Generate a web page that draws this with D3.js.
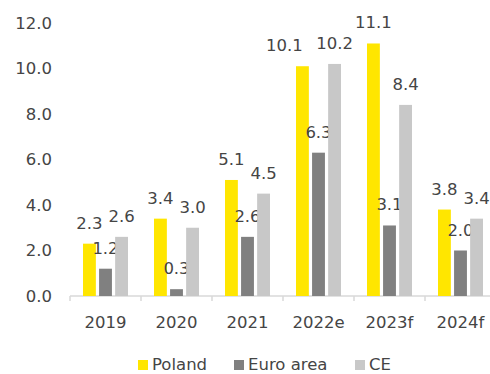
<!DOCTYPE html>
<html>
<head>
<meta charset="utf-8">
<script src="https://cdn.jsdelivr.net/npm/d3@7"></script>
<style>
  html, body { margin: 0; padding: 0; background: #fff; }
  svg { display: block; font-family: "DejaVu Sans", sans-serif; }
</style>
</head>
<body>
<svg id="chart" width="490" height="374"></svg>
<script>
// Price growth comparison, % y/y
const years = ["2019", "2020", "2021", "2022e", "2023f", "2024f"];
const seriesNames = ["Poland", "Euro area", "CE"];
const poland = [2.3, 3.4, 5.1, 10.1, 11.1, 3.8];
const euroArea = [1.2, 0.3, 2.6, 6.3, 3.1, 2.0];
const ce = [2.6, 3.0, 4.5, 10.2, 8.4, 3.4];
const yTicks = [0, 2, 4, 6, 8, 10, 12];

const colors = { "Poland": "#FFE600", "Euro area": "#808080", "CE": "#C8C8C8" };
const textColor = "#454545";
const fontSize = 16.5;

const seriesValues = { "Poland": poland, "Euro area": euroArea, "CE": ce };

// labels nudged sideways so neighbouring labels don't collide
const labelShift = { "2022e|Poland": -18 };

const svg = d3.select("#chart");

const x = d3.scaleBand().domain(years).range([70, 496]).paddingInner(0).paddingOuter(0);
const xInner = d3.scaleBand().domain(seriesNames).range([13, 58]).paddingInner(0.2);
const y = d3.scaleLinear().domain([0, 12]).range([296, 23]);

// Y axis labels (no axis line, no gridlines)
const yAxis = d3.axisLeft(y).tickValues(yTicks).tickFormat(d3.format(".1f")).tickSize(0).tickPadding(0);
const gy = svg.append("g").attr("transform", "translate(52,0)").call(yAxis);
gy.select(".domain").remove();
gy.selectAll("text")
  .attr("fill", textColor)
  .attr("font-size", fontSize)
  .attr("font-family", "DejaVu Sans, sans-serif");

// X axis with tick marks at category boundaries
const gx = svg.append("g").attr("transform", "translate(0,296)");
gx.append("line")
  .attr("x1", x.range()[0]).attr("x2", x.range()[1])
  .attr("stroke", "#D9D9D9").attr("stroke-width", 1.5);
gx.selectAll("line.tick")
  .data(years)
  .join("line")
  .attr("class", "tick")
  .attr("x1", d => x(d)).attr("x2", d => x(d))
  .attr("y1", 0).attr("y2", 5)
  .attr("stroke", "#D9D9D9").attr("stroke-width", 1.5);
gx.selectAll("text")
  .data(years)
  .join("text")
  .attr("x", d => x(d) + x.bandwidth() / 2)
  .attr("y", 32)
  .attr("text-anchor", "middle")
  .attr("fill", textColor)
  .attr("font-size", fontSize)
  .text(d => d);

// Bars and value labels
const groups = svg.selectAll("g.year")
  .data(years)
  .join("g")
  .attr("class", "year")
  .attr("transform", d => `translate(${x(d)},0)`);

const cells = groups.selectAll("g.cell")
  .data((yr, i) => seriesNames.map(s => ({ year: yr, series: s, value: seriesValues[s][i] })))
  .join("g")
  .attr("class", "cell");

cells.append("rect")
  .attr("x", d => xInner(d.series))
  .attr("width", xInner.bandwidth())
  .attr("y", d => y(d.value))
  .attr("height", d => y(0) - y(d.value))
  .attr("fill", d => colors[d.series]);

cells.append("text")
  .attr("x", d => xInner(d.series) + xInner.bandwidth() / 2 + (labelShift[d.year + "|" + d.series] || 0))
  .attr("y", d => y(d.value) - 15)
  .attr("text-anchor", "middle")
  .attr("fill", textColor)
  .attr("font-size", fontSize)
  .text(d => d3.format(".1f")(d.value));

// Legend
const legendItems = [
  { name: "Poland", x: 138 },
  { name: "Euro area", x: 234 },
  { name: "CE", x: 355 }
];
const legend = svg.append("g");
const li = legend.selectAll("g").data(legendItems).join("g")
  .attr("transform", d => `translate(${d.x},360)`);
li.append("rect").attr("width", 10).attr("height", 10).attr("fill", d => colors[d.name]);
li.append("text")
  .attr("x", 14).attr("y", 10)
  .attr("fill", textColor)
  .attr("font-size", fontSize)
  .text(d => d.name);
</script>
</body>
</html>
